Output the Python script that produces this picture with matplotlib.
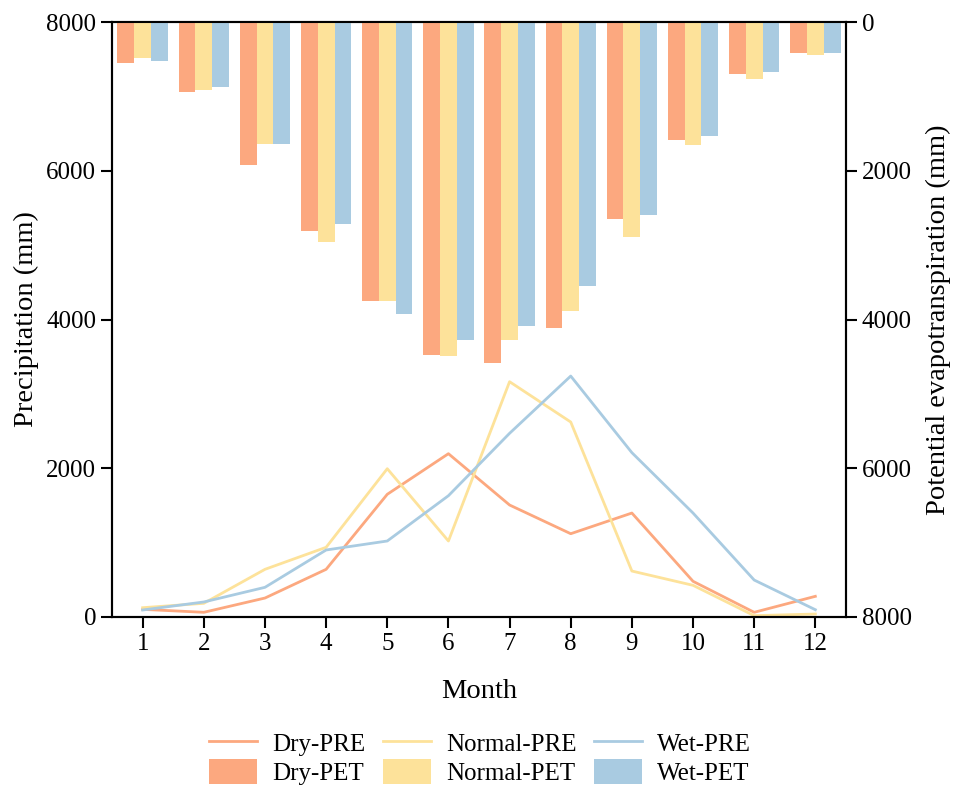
import matplotlib
matplotlib.use("Agg")
import matplotlib.pyplot as plt
import numpy as np

plt.rcParams['font.family'] = ['Liberation Serif', 'DejaVu Serif']

months = [1, 2, 3, 4, 5, 6, 7, 8, 9, 10, 11, 12]

dry_pre = [103, 63, 255, 641, 1650, 2196, 1506, 1120, 1398, 480, 63, 278]
normal_pre = [125, 184, 641, 937, 1994, 1022, 3164, 2622, 618, 426, 18, 40]
wet_pre = [94, 202, 399, 901, 1022, 1631, 2470, 3240, 2210, 1398, 497, 98]

dry_pet = [555, 941, 1927, 2806, 3751, 4473, 4580, 4110, 2644, 1591, 699, 412]
normal_pet = [480, 910, 1640, 2954, 3747, 4495, 4271, 3886, 2891, 1649, 766, 448]
wet_pet = [520, 874, 1645, 2712, 3926, 4276, 4083, 3550, 2591, 1533, 677, 421]

c_dry = '#FCA87F'
c_norm = '#FDE29A'
c_wet = '#A9CBE1'

fig = plt.figure(figsize=(9.58, 7.89), dpi=100)
ax = fig.add_axes([0.117, 0.218, 0.766, 0.754])
ax2 = ax.twinx()

x = np.array(months)
w = 0.275
b1 = ax2.bar(x - w, dry_pet, width=w, color=c_dry, label='Dry-PET')
b2 = ax2.bar(x, normal_pet, width=w, color=c_norm, label='Normal-PET')
b3 = ax2.bar(x + w, wet_pet, width=w, color=c_wet, label='Wet-PET')
ax2.set_ylim(8000, 0)
ax2.set_yticks([0, 2000, 4000, 6000, 8000])
ax2.set_ylabel('Potential evapotranspiration (mm)', fontsize=20.5, labelpad=10)

l1, = ax.plot(x, dry_pre, color=c_dry, lw=2, label='Dry-PRE')
l2, = ax.plot(x, normal_pre, color=c_norm, lw=2, label='Normal-PRE')
l3, = ax.plot(x, wet_pre, color=c_wet, lw=2, label='Wet-PRE')
ax.set_ylim(0, 8000)
ax.set_yticks([0, 2000, 4000, 6000, 8000])
ax.set_xlim(0.5, 12.5)
ax.set_xticks(months)
ax.set_xlabel('Month', fontsize=20.5, labelpad=17)
ax.set_ylabel('Precipitation (mm)', fontsize=20.5, labelpad=5)

for a in (ax, ax2):
    a.tick_params(labelsize=18, width=1.5, length=8, direction='out')
    for s in a.spines.values():
        s.set_linewidth(1.5)

handles = [l1, b1, l2, b2, l3, b3]
labels = [h.get_label() for h in handles]
fig.legend(handles, labels, ncol=3, loc='center', bbox_to_anchor=(0.501, 0.04),
           frameon=False, fontsize=18, handlelength=1.92, handleheight=1.15,
           columnspacing=0.7, handletextpad=0.6, labelspacing=0.12,
           borderpad=0.2)

fig.savefig('out.png', dpi=100)
